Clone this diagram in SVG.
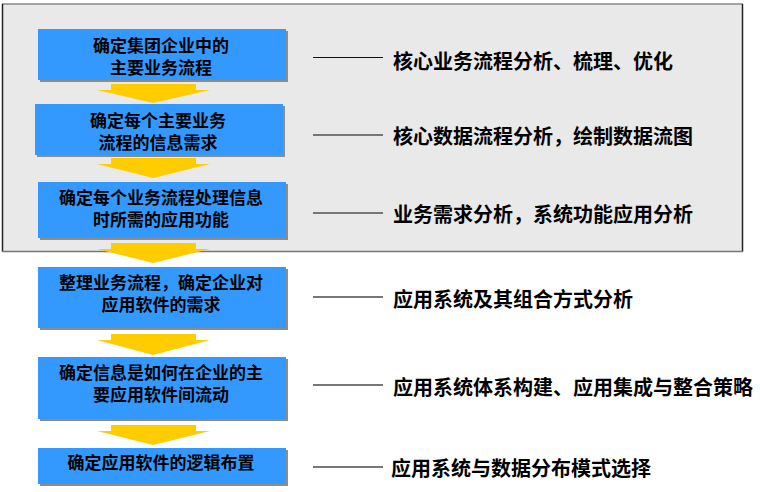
<svg xmlns="http://www.w3.org/2000/svg" width="760" height="492" viewBox="0 0 760 492">
<defs>
<style>
.box{fill:#3399ff}
.shd{fill:#8c8c8c}
.bt{font-family:"Noto Sans CJK SC","Liberation Sans",sans-serif;font-size:17px;font-weight:bold;fill:#000;text-anchor:middle}
.rt{font-family:"Noto Sans CJK SC","Liberation Sans",sans-serif;font-size:20px;font-weight:bold;fill:#000}
.arr{fill:#ffcc00}
.ln{stroke:#777;stroke-width:2}
</style>
</defs>
<rect width="760" height="492" fill="#fff"/>
<g id="panel">
<rect x="2.5" y="4" width="740" height="247.5" fill="#e9e9e9"/>
<line x1="2" y1="4" x2="743" y2="4" stroke="#888" stroke-width="1.5"/>
<line x1="2.5" y1="4" x2="2.5" y2="252" stroke="#222" stroke-width="1.5"/>
<line x1="742.5" y1="4" x2="742.5" y2="252" stroke="#222" stroke-width="1.5"/>
<line x1="2" y1="251.5" x2="743" y2="251.5" stroke="#777" stroke-width="1.5"/>
</g>
<g id="connectors">
<polygon class="arr" points="111,84 196,84 196,90 210,90 153,103 97,90 111,90"/>
<polygon class="arr" points="111,158 196,158 196,164 210,164 153,178 97,164 111,164"/>
<polygon class="arr" points="111,243 196,243 196,249 210,249 153,263 97,249 111,249"/>
<polygon class="arr" points="111,334 196,334 196,340 210,340 153,355 97,340 111,340"/>
<polygon class="arr" points="111,425 196,425 196,431 210,431 153,445 97,431 111,431"/>
<line x1="313" y1="57.5" x2="383" y2="57.5" stroke="#111" stroke-width="1.2"/>
<line class="ln" x1="313" y1="135" x2="383" y2="135"/>
<line class="ln" x1="313" y1="213" x2="383" y2="213"/>
<line class="ln" x1="313" y1="297" x2="383" y2="297"/>
<line class="ln" x1="313" y1="385" x2="383" y2="385"/>
<line class="ln" x1="313" y1="467" x2="383" y2="467"/>
</g>
<g id="n1">
<rect class="shd" x="40" y="31" width="248" height="51"/>
<rect class="box" x="38" y="29" width="248" height="51"/>
<text class="bt" x="161" y="52">确定集团企业中的<tspan x="161" dy="22">主要业务流程</tspan></text>
</g>
<g id="n2">
<rect class="shd" x="37" y="106" width="248" height="51"/>
<rect class="box" x="35" y="104" width="248" height="51"/>
<text class="bt" x="158" y="127">确定每个主要业务<tspan x="158" dy="22">流程的信息需求</tspan></text>
</g>
<g id="n3">
<rect class="shd" x="40" y="184" width="248" height="56"/>
<rect class="box" x="38" y="182" width="248" height="56"/>
<text class="bt" x="161" y="204">确定每个业务流程处理信息<tspan x="161" dy="22">时所需的应用功能</tspan></text>
</g>
<g id="n4">
<rect class="shd" x="40" y="269" width="248" height="61"/>
<rect class="box" x="38" y="267" width="248" height="61"/>
<text class="bt" x="161" y="289">整理业务流程，确定企业对<tspan x="161" dy="22">应用软件的需求</tspan></text>
</g>
<g id="n5">
<rect class="shd" x="40" y="359" width="248" height="62"/>
<rect class="box" x="38" y="357" width="248" height="62"/>
<text class="bt" x="161" y="379">确定信息是如何在企业的主<tspan x="161" dy="22">要应用软件间流动</tspan></text>
</g>
<g id="n6">
<rect class="shd" x="40" y="450" width="248" height="36"/>
<rect class="box" x="38" y="448" width="248" height="36"/>
<text class="bt" x="161" y="469">确定应用软件的逻辑布置</text>
</g>
<g id="labels">
<text class="rt" x="393" y="69">核心业务流程分析、梳理、优化</text>
<text class="rt" x="393" y="144">核心数据流程分析，绘制数据流图</text>
<text class="rt" x="393" y="222">业务需求分析，系统功能应用分析</text>
<text class="rt" x="393" y="307">应用系统及其组合方式分析</text>
<text class="rt" x="393" y="395">应用系统体系构建、应用集成与整合策略</text>
<text class="rt" x="391" y="476">应用系统与数据分布模式选择</text>
</g>
</svg>
